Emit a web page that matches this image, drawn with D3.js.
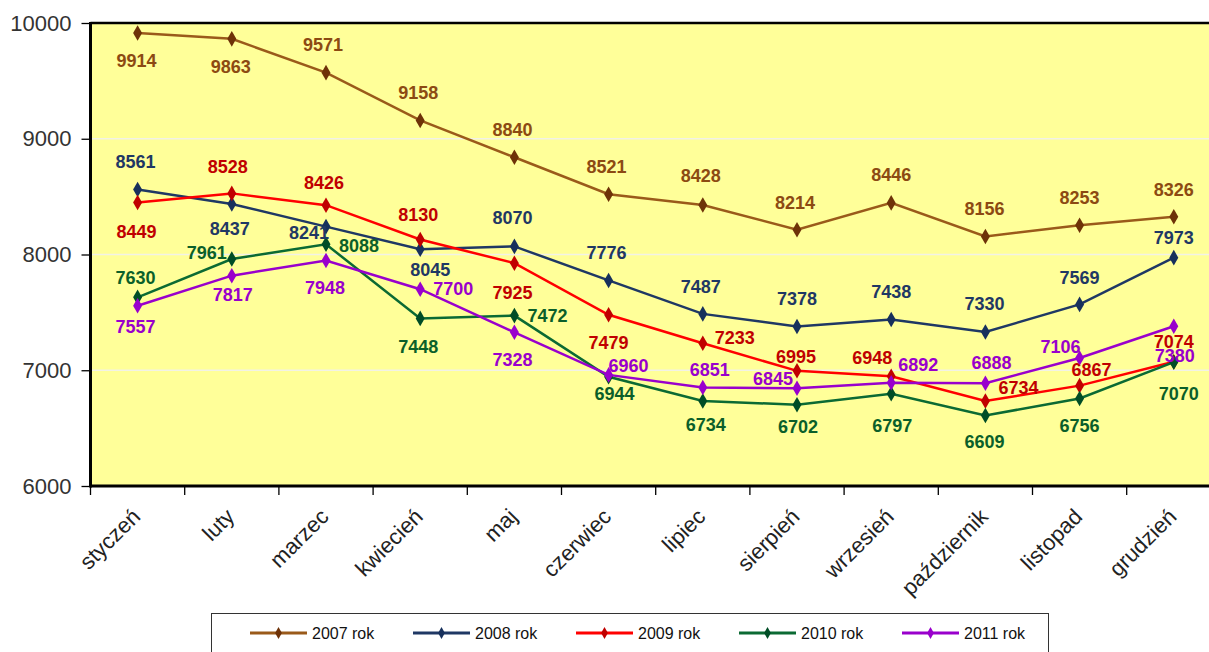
<!DOCTYPE html>
<html>
<head>
<meta charset="utf-8">
<script src="https://cdn.jsdelivr.net/npm/d3@7"></script>
<style>
  body { margin: 0; background: #fff; }
  svg { display: block; font-family: Arial, "Liberation Sans", sans-serif; }
</style>
</head>
<body>
<div class="chart"></div>
<script>
// months on the x axis
var months = ["styczeń", "luty", "marzec", "kwiecień", "maj", "czerwiec",
              "lipiec", "sierpień", "wrzesień", "październik", "listopad", "grudzień"];

// values per year
var v2007 = [9914, 9863, 9571, 9158, 8840, 8521, 8428, 8214, 8446, 8156, 8253, 8326];
var v2008 = [8561, 8437, 8241, 8045, 8070, 7776, 7487, 7378, 7438, 7330, 7569, 7973];
var v2009 = [8449, 8528, 8426, 8130, 7925, 7479, 7233, 6995, 6948, 6734, 6867, 7074];
var v2010 = [7630, 7961, 8088, 7448, 7472, 6944, 6734, 6702, 6797, 6609, 6756, 7070];
var v2011 = [7557, 7817, 7948, 7700, 7328, 6960, 6851, 6845, 6892, 6888, 7106, 7380];

var yTicks = [6000, 7000, 8000, 9000, 10000];
var seriesNames = ["2007 rok", "2008 rok", "2009 rok", "2010 rok", "2011 rok"];

// where each data label sits, relative to its point (px)
var off2007 = [[-1,28],[-1,28],[-3,-28],[-2,-28],[-2,-28],[-2,-28],[-2,-29],[-2,-27],[0,-28],[-1,-28],[0,-28],[0,-27]];
var off2008 = [[-2,-28],[-2,25],[-17,6],[10,20],[-2,-29],[-2,-28],[-2,-27],[0,-28],[0,-28],[-1,-29],[0,-27],[0,-20]];
var off2009 = [[-1,29],[-4,-27],[-2,-23],[-2,-25],[-2,29],[0,28],[32,-6],[-1,-14],[-19,-19],[33,-14],[12,-16],[0,-20]];
var off2010 = [[-2,-20],[-25,-6],[33,1],[-2,28],[33,0],[6,17],[3,23],[1,22],[1,32],[-1,26],[0,27],[5,31]];
var off2011 = [[-2,21],[1,19],[-1,27],[33,-1],[-2,27],[20,-9],[7,-18],[-24,-10],[27,-18],[6,-21],[-19,-11],[1,29]];

var lineColors   = ["#9a5a1a", "#1f3864", "#ff0000", "#0b6a33", "#9900cc"];
var markerColors = ["#6e3208", "#17305c", "#c00000", "#004d26", "#9900cc"];
var labelColors  = ["#8c4a12", "#1f3864", "#c00000", "#0b5f2a", "#9900cc"];

var series = [v2007, v2008, v2009, v2010, v2011].map(function(vals, i) {
  return { name: seriesNames[i], values: vals,
           offs: [off2007, off2008, off2009, off2010, off2011][i],
           line: lineColors[i], marker: markerColors[i], label: labelColors[i] };
});

var W = 1209, H = 652;
var margin = {top: 23, left: 90.5};
var plotW = 12 * 94.2, plotH = 463;

var svg = d3.select(".chart").append("svg")
  .attr("width", W).attr("height", H);

var g = svg.append("g")
  .attr("transform", "translate(" + margin.left + "," + margin.top + ")");

var x = d3.scaleBand().domain(months).range([0, plotW]);
var cx = function(m) { return x(m) + x.bandwidth() / 2; };
var y = d3.scaleLinear().domain([6000, 10000]).range([plotH, 0]);

// plot background
g.append("rect")
  .attr("width", plotW).attr("height", plotH)
  .attr("fill", "#ffff99");

// gridlines
g.selectAll(".grid").data(yTicks.slice(1, -1)).enter()
  .append("line")
  .attr("x1", 0).attr("x2", plotW)
  .attr("y1", function(d) { return y(d); }).attr("y2", function(d) { return y(d); })
  .attr("stroke", "#f2f2e6").attr("stroke-width", 1.5);

// y axis
var yAxis = g.append("g")
  .call(d3.axisLeft(y).tickValues(yTicks).tickSize(9).tickPadding(10).tickFormat(d3.format("d")));
yAxis.select(".domain").remove();
yAxis.selectAll("line").attr("stroke", "#000").attr("stroke-width", 1.3);
yAxis.selectAll("text").style("font-size", "22px").attr("fill", "#333");

// x axis ticks at band edges
var edges = d3.range(13).map(function(i) { return i * x.step(); });
g.selectAll(".xtick").data(edges).enter()
  .append("line")
  .attr("x1", function(d) { return d; }).attr("x2", function(d) { return d; })
  .attr("y1", plotH).attr("y2", plotH + 9)
  .attr("stroke", "#000").attr("stroke-width", 1.3);

g.selectAll(".xlab").data(months).enter()
  .append("text")
  .attr("text-anchor", "end")
  .attr("transform", function(d) { return "translate(" + (cx(d) + 4) + "," + (plotH + 32) + ") rotate(-45)"; })
  .style("font-size", "22px")
  .attr("fill", "#222")
  .text(function(d) { return d; });

// border (left, top, bottom thick)
g.append("line").attr("x1", 0).attr("x2", plotW).attr("y1", 0).attr("y2", 0)
  .attr("stroke", "#000").attr("stroke-width", 2.5);
g.append("line").attr("x1", 0).attr("x2", plotW).attr("y1", plotH).attr("y2", plotH)
  .attr("stroke", "#000").attr("stroke-width", 3);
g.append("line").attr("x1", 0).attr("x2", 0).attr("y1", -1).attr("y2", plotH + 1.5)
  .attr("stroke", "#000").attr("stroke-width", 3);

// lines + markers
var line = d3.line()
  .x(function(d, i) { return cx(months[i]); })
  .y(function(d) { return y(d); });

var diamond = d3.symbol().type(d3.symbolDiamond).size(70);

series.forEach(function(s) {
  g.append("path")
    .datum(s.values)
    .attr("d", line)
    .attr("fill", "none")
    .attr("stroke", s.line)
    .attr("stroke-width", 2.5);

  g.selectAll(null).data(s.values).enter()
    .append("path")
    .attr("d", diamond)
    .attr("transform", function(d, i) { return "translate(" + cx(months[i]) + "," + y(d) + ")"; })
    .attr("fill", s.marker);
});

// data labels
series.forEach(function(s) {
  g.selectAll(null).data(s.values).enter()
    .append("text")
    .attr("x", function(d, i) { return cx(months[i]) + s.offs[i][0]; })
    .attr("y", function(d, i) { return y(d) + s.offs[i][1]; })
    .attr("dy", "0.36em")
    .attr("text-anchor", "middle")
    .style("font-size", "18px")
    .style("font-weight", "bold")
    .attr("fill", s.label)
    .text(function(d) { return d; });
});

// legend
var leg = svg.append("g").attr("transform", "translate(211,613)");
leg.append("rect")
  .attr("x", 0.5).attr("y", 0.5)
  .attr("width", 837).attr("height", 60)
  .attr("fill", "#fff").attr("stroke", "#333").attr("stroke-width", 1);

var legX = d3.scalePoint().domain(seriesNames).range([39, 691]);

var items = leg.selectAll(".item").data(series).enter()
  .append("g")
  .attr("transform", function(d) { return "translate(" + legX(d.name) + ",20)"; });

items.append("line")
  .attr("x1", 0).attr("x2", 57)
  .attr("stroke", function(d) { return d.line; })
  .attr("stroke-width", 3);
items.append("path")
  .attr("d", d3.symbol().type(d3.symbolDiamond).size(40))
  .attr("transform", "translate(28.5,0)")
  .attr("fill", function(d) { return d.marker; });
items.append("text")
  .attr("x", 62).attr("dy", "0.36em")
  .style("font-size", "16px")
  .attr("fill", "#111")
  .text(function(d) { return d.name; });
</script>
</body>
</html>
